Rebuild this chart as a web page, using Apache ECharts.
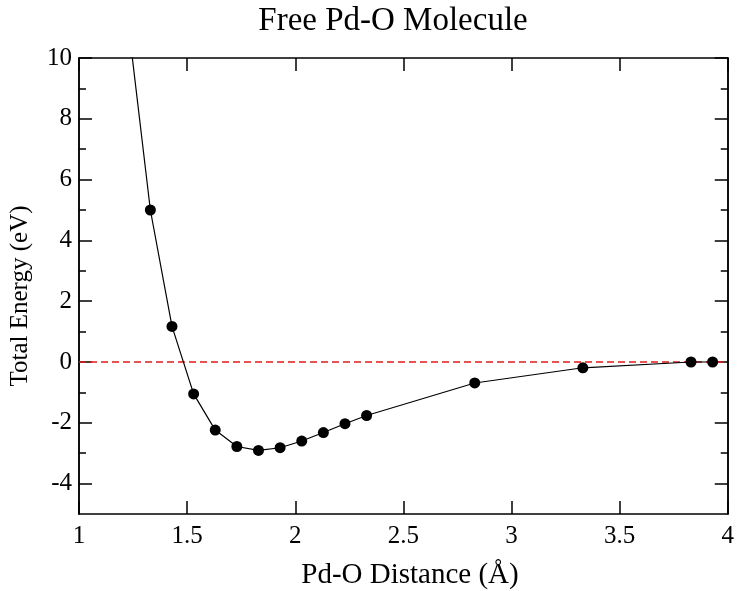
<!DOCTYPE html>
<html>
<head>
<meta charset="utf-8">
<script src="https://cdn.jsdelivr.net/npm/echarts@6/dist/echarts.min.js"></script>
<style>
html,body{margin:0;padding:0;background:#fff;}
#chart{width:737px;height:591px;}
</style>
</head>
<body>
<div id="chart"></div>
<script>
// Data (Pd-O distance in Å, total energy in eV)
var distances = [1.23, 1.33, 1.43, 1.53, 1.63, 1.73, 1.83, 1.93, 2.03, 2.13, 2.23, 2.33, 2.83, 3.33, 3.83, 3.93];
var energies  = [11.0, 5.0, 1.17, -1.05, -2.24, -2.78, -2.91, -2.82, -2.6, -2.32, -2.03, -1.76, -0.69, -0.19, 0.0, 0.0];
var yMajorTicks = [-4, -2, 0, 2, 4, 6, 8, 10];
var yMinorTicks = [-3, -1, 1, 3, 5, 7, 9];
var referenceLevel = 0;

var titleText = 'Free Pd-O Molecule';
var xName = 'Pd-O Distance (Å)';
var yName = 'Total Energy (eV)';

var FONT = '"Liberation Serif", "DejaVu Serif", serif';
var chart = echarts.init(document.getElementById('chart'), null, {renderer: 'canvas'});

var pts = distances.map(function (d, i) { return [d, energies[i]]; });

var axisLine = {show: true, onZero: false, lineStyle: {color: '#000', width: 1.5}};

function yAxisDef(pos, ticks, len, labels) {
  return {
    type: 'value', min: -5, max: 10, interval: 1, position: pos,
    axisLine: axisLine,
    axisTick: {show: true, inside: true, length: len, customValues: ticks, lineStyle: {color: '#000', width: 1.5}},
    axisLabel: labels ? {show: true, customValues: yMajorTicks, fontFamily: FONT, fontSize: 25, color: '#000', margin: 7} : {show: false},
    splitLine: {show: false}
  };
}

var option = {
  backgroundColor: '#fff',
  animation: false,
  grid: {left: 79, right: 7, top: 58, bottom: 77, containLabel: false},
  graphic: [
    {type: 'text', x: 393, y: 21, style: {text: titleText, font: '33px ' + FONT, fill: '#000', align: 'center', verticalAlign: 'middle'}},
    {type: 'text', x: 410, y: 575, style: {text: xName, font: '29px ' + FONT, fill: '#000', align: 'center', verticalAlign: 'middle'}},
    {type: 'text', x: 20, y: 296, rotation: Math.PI / 2, style: {text: yName, font: '25px ' + FONT, fill: '#000', align: 'center', verticalAlign: 'middle'}}
  ],
  xAxis: [
    {
      type: 'value', min: 1, max: 4, interval: 0.5, position: 'bottom',
      axisLine: axisLine,
      axisTick: {show: true, inside: true, length: 13, lineStyle: {color: '#000', width: 1.5}},
      axisLabel: {fontFamily: FONT, fontSize: 25, color: '#000', margin: 10,
        formatter: function (v) { return String(v); }},
      splitLine: {show: false}
    },
    {
      type: 'value', min: 1, max: 4, interval: 0.5, position: 'top',
      axisLine: axisLine,
      axisTick: {show: true, inside: true, length: 13, lineStyle: {color: '#000', width: 1.5}},
      axisLabel: {show: false}, splitLine: {show: false}
    }
  ],
  yAxis: [
    yAxisDef('left', yMajorTicks, 13, true),
    yAxisDef('left', yMinorTicks, 7, false),
    yAxisDef('right', yMajorTicks, 13, false),
    yAxisDef('right', yMinorTicks, 7, false)
  ],
  series: [
    {
      type: 'line', xAxisIndex: 0, yAxisIndex: 0, z: 1,
      data: [[1, referenceLevel], [4, referenceLevel]],
      symbol: 'none', silent: true,
      lineStyle: {color: '#e11b1b', width: 1.6, type: [7, 4]}
    },
    {
      type: 'line', xAxisIndex: 0, yAxisIndex: 0, z: 3,
      data: pts, clip: true,
      symbol: 'circle', symbolSize: 11, showAllSymbol: true,
      itemStyle: {color: '#000'},
      lineStyle: {color: '#000', width: 1.2}
    }
  ]
};
chart.setOption(option);
</script>
</body>
</html>
